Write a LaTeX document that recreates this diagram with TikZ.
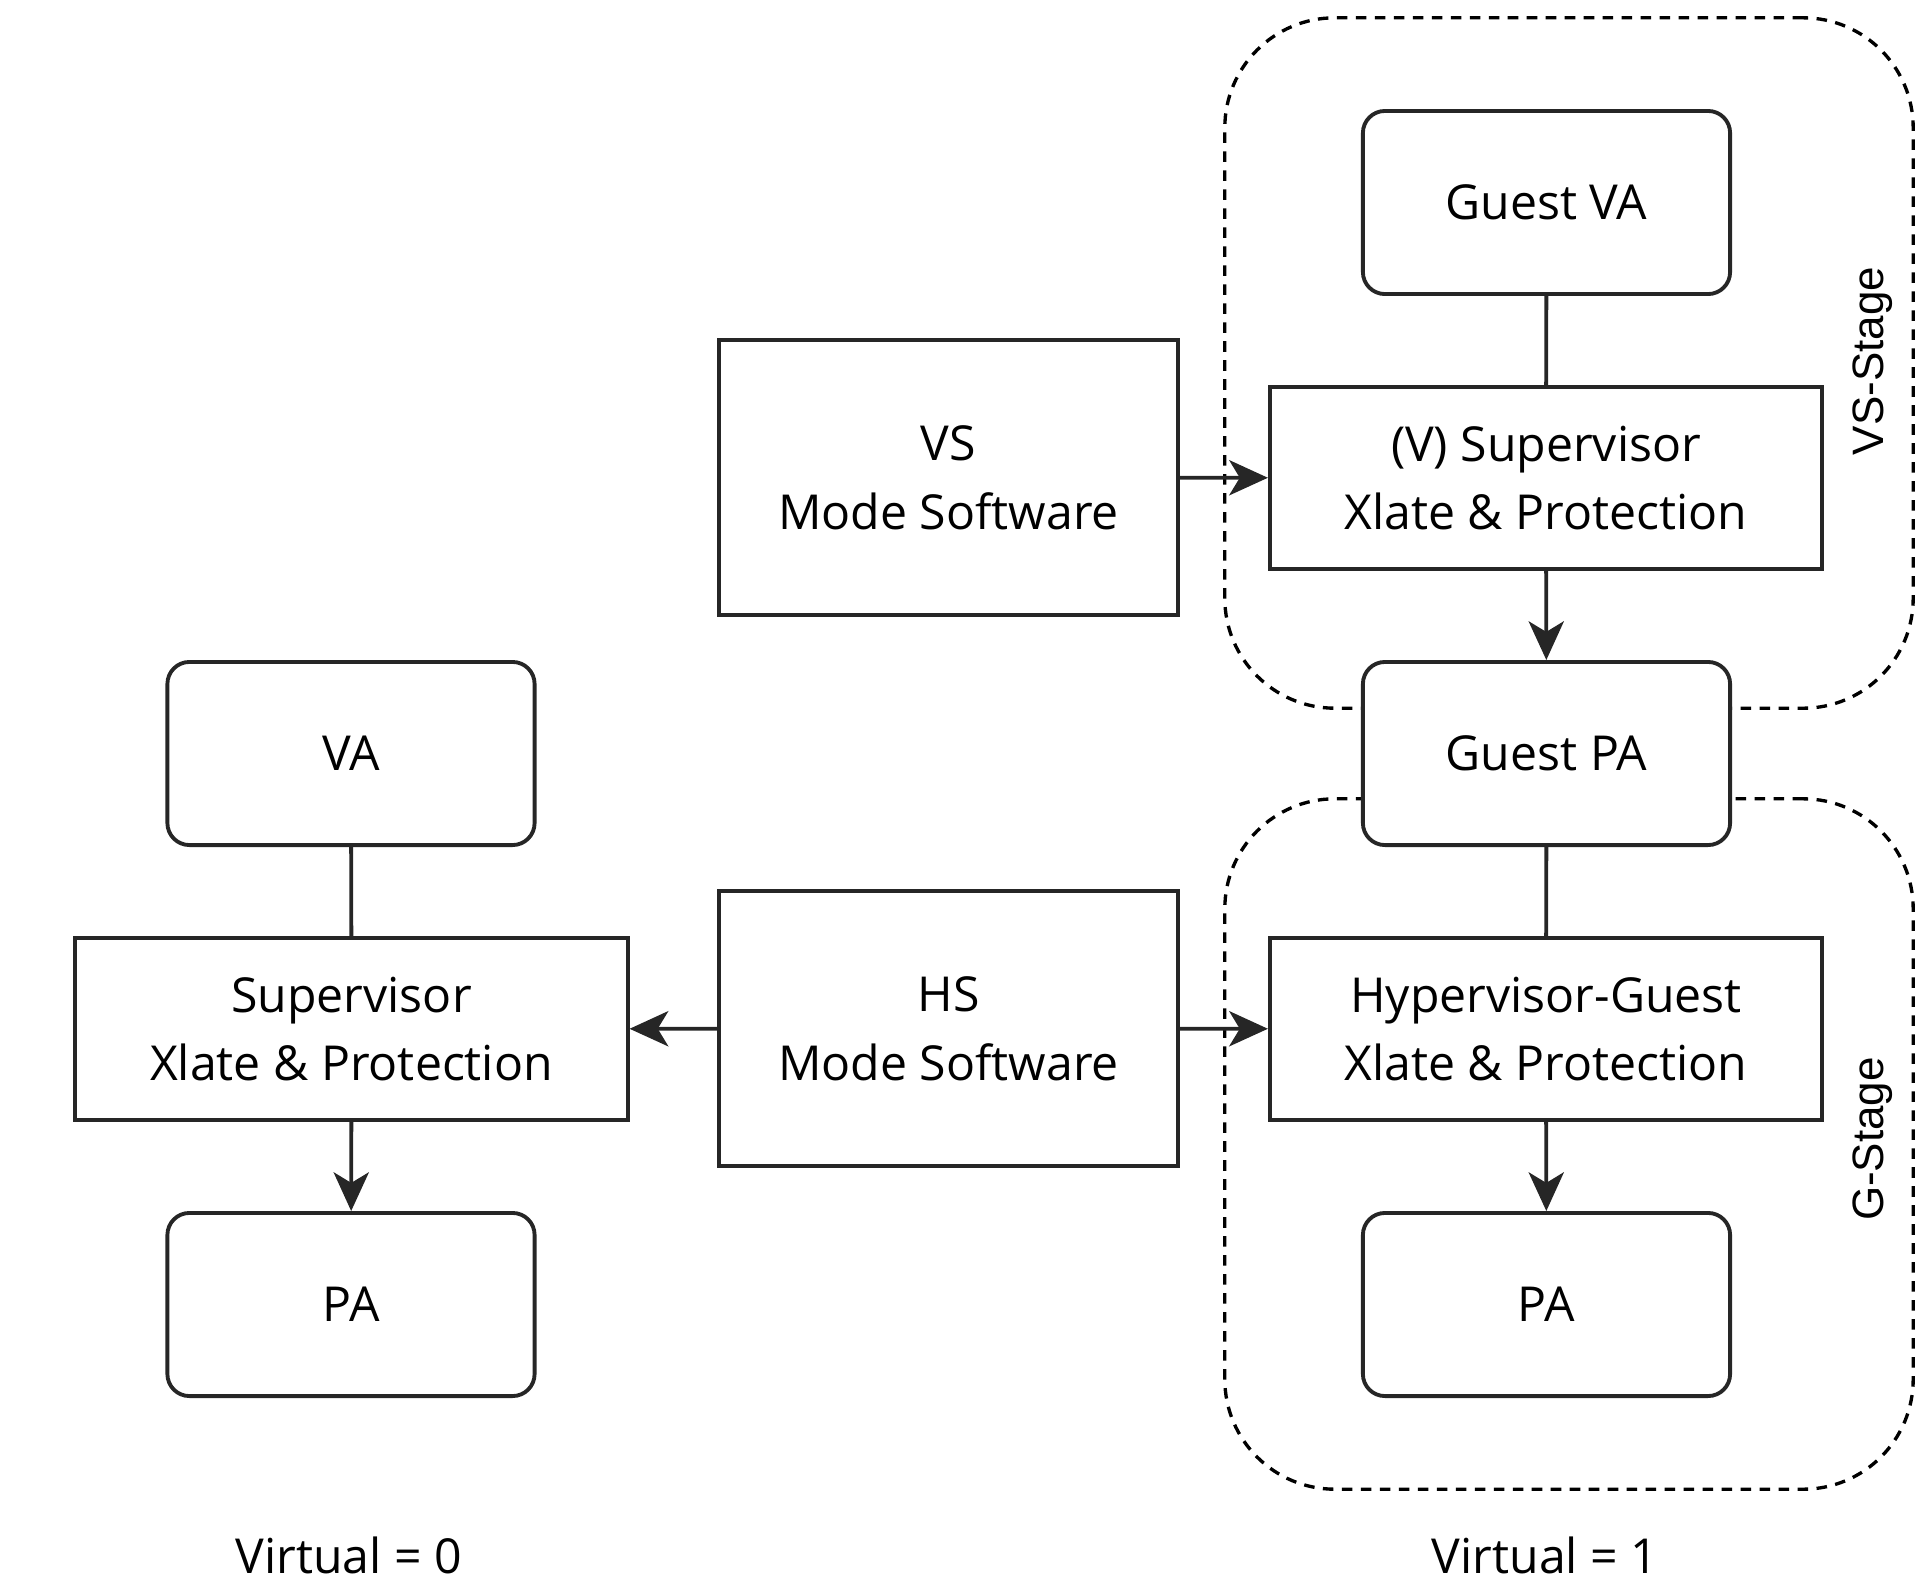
\documentclass[tikz,border=0pt]{standalone}
\usepackage{fontspec}
\setmainfont{Open Sans}
\newfontfamily\stagefont{Liberation Sans}
\usetikzlibrary{arrows.meta}
\begin{document}
\begin{tikzpicture}[x=0.01cm,y=-0.01cm,
  every node/.style={inner sep=0pt, align=center, font=\fontsize{13.7}{19.5}\selectfont},
  rbox/.style={draw=black!85, line width=1.1pt, fill=white, rounded corners=0.22cm, minimum width=3.67cm, minimum height=1.83cm},
  sbox/.style={draw=black!85, line width=1.1pt, fill=white, minimum width=5.52cm, minimum height=1.82cm},
  mbox/.style={draw=black!85, line width=1.1pt, fill=white, minimum width=4.59cm, minimum height=2.75cm},
  stagebox/.style={draw=black, line width=0.95pt, dash pattern=on 3pt off 2.4pt, rounded corners=1.1cm, minimum width=6.88cm, minimum height=6.90cm},
  stagelabel/.style={rotate=90, font=\stagefont\fontsize{12.5}{15}\selectfont},
  conn/.style={draw=black!85, line width=1.1pt},
  arr/.style={conn, -{Stealth[length=11pt,width=10pt,inset=3pt]}}
]
\useasboundingbox (0,0) rectangle (1920,1584);
% stage containers
\node[stagebox] (vsst) at (1569,363) {};
\node[stagebox] (gst) at (1569,1144) {};
\node[stagelabel] (vslab) at (1873,361) {VS-Stage};
\node[stagelabel] (glab) at (1873,1139) {G-Stage};
% boxes
\node[rbox] (gva) at (1546.5,202.5) {Guest VA};
\node[sbox] (vsup) at (1546,478) {(V) Supervisor\\Xlate \& Protection};
\node[mbox] (vsm) at (948.5,477.5) {VS\\Mode Software};
\node[rbox] (gpa) at (1546.5,753.5) {Guest PA};
\node[sbox] (hg) at (1546,1029) {Hypervisor-Guest\\Xlate \& Protection};
\node[rbox] (pa1) at (1546.5,1304.5) {PA};
\node[rbox] (va) at (351,753.5) {VA};
\node[sbox] (sup) at (351.5,1029) {Supervisor\\Xlate \& Protection};
\node[rbox] (pa0) at (351,1304.5) {PA};
\node[mbox] (hsm) at (948.5,1028.5) {HS\\Mode Software};
% bottom labels
\node (v0) at (349,1555) {Virtual = 0};
\node (v1) at (1545,1555) {Virtual = 1};
% connectors
\draw[conn] (gva) -- (vsup);
\draw[arr] (vsup) -- (gpa);
\draw[arr] (vsm) -- (vsup);
\draw[conn] (gpa) -- (hg);
\draw[arr] (hg) -- (pa1);
\draw[conn] (va) -- (sup);
\draw[arr] (sup) -- (pa0);
\draw[arr] (hsm) -- (sup);
\draw[arr] (hsm) -- (hg);
\end{tikzpicture}
\end{document}
